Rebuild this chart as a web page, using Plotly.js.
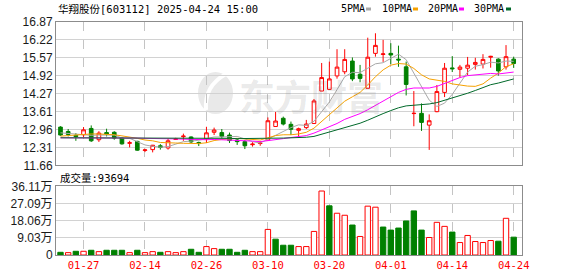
<!DOCTYPE html>
<html><head><meta charset="utf-8">
<script src="https://cdn.plot.ly/plotly-3.0.1.min.js"></script>
<style>html,body{margin:0;padding:0;background:#fff;}#chart{width:578px;height:276px;}</style>
</head><body><div id="chart"></div>
<script>
// ---------------- data ----------------
const stockName = '华翔股份';
const stockCode = '603112';
const stamp = '2025-04-24 15:00';
const dates = ['2025-01-22','2025-01-23','2025-01-24','2025-01-27','2025-02-05','2025-02-06','2025-02-07','2025-02-10','2025-02-11','2025-02-12',
 '2025-02-13','2025-02-14','2025-02-17','2025-02-18','2025-02-19','2025-02-20','2025-02-21','2025-02-24','2025-02-25','2025-02-26',
 '2025-02-27','2025-02-28','2025-03-03','2025-03-04','2025-03-05','2025-03-06','2025-03-07','2025-03-10','2025-03-11','2025-03-12',
 '2025-03-13','2025-03-14','2025-03-17','2025-03-18','2025-03-19','2025-03-20','2025-03-21','2025-03-24','2025-03-25','2025-03-26',
 '2025-03-27','2025-03-28','2025-03-31','2025-04-01','2025-04-02','2025-04-03','2025-04-07','2025-04-08','2025-04-09','2025-04-10',
 '2025-04-11','2025-04-14','2025-04-15','2025-04-16','2025-04-17','2025-04-18','2025-04-21','2025-04-22','2025-04-23','2025-04-24'];
const open  = [13.05,12.89,12.75,12.77,13.00,12.59,12.85,12.86,12.65,12.46, 12.53,12.20,12.23,12.37,12.29,12.60,12.70,12.69,12.49,12.62,
 12.86,12.85,12.76,12.58,12.52,12.41,12.45,12.58,13.07,13.37, 13.15,12.93,13.03,13.18,14.36,14.42,14.91,15.06,15.45,14.97,
 14.46,15.73,15.69,15.73,15.52,15.24,13.54,13.55,13.12,13.61, 14.31,15.20,15.15,15.19,15.33,15.34,15.59,15.52,15.24,15.52];
const high  = [13.08,12.98,12.83,13.05,13.11,12.90,12.99,12.90,12.68,12.55, 12.55,12.26,12.40,12.43,12.63,12.66,12.81,12.71,12.52,13.06,
 13.03,12.98,12.85,12.64,12.58,12.50,12.54,13.40,13.60,13.43, 13.25,13.03,13.31,14.07,15.38,15.43,15.88,15.88,15.58,15.31,
 16.30,16.46,16.22,16.10,16.01,15.43,14.36,13.91,13.51,14.58, 15.38,15.63,15.31,15.60,15.57,15.70,15.64,15.55,16.03,15.61];
const low   = [12.73,12.71,12.55,12.69,12.51,12.51,12.71,12.59,12.41,12.31, 12.19,12.14,12.13,12.23,12.23,12.58,12.55,12.47,12.36,12.47,
 12.76,12.64,12.47,12.40,12.25,12.34,12.37,12.57,13.06,13.11, 12.76,12.66,12.98,13.18,14.36,14.40,14.81,14.97,14.72,14.68,
 14.46,15.61,15.42,15.34,15.24,14.20,13.08,12.91,12.22,13.59, 14.14,15.05,14.85,14.94,15.14,15.18,15.21,14.92,15.14,15.20];
const close = [12.76,12.78,12.70,12.95,12.55,12.83,12.80,12.65,12.44,12.48, 12.21,12.22,12.39,12.31,12.55,12.62,12.72,12.51,12.45,12.84,
 12.94,12.71,12.56,12.52,12.37,12.43,12.47,13.28,13.27,13.16, 12.97,12.99,13.16,14.00,14.85,14.80,15.23,15.51,14.80,14.82,
 15.59,16.02,15.71,15.67,15.49,14.60,13.55,13.22,13.28,14.34, 15.19,15.17,15.23,15.30,15.40,15.51,15.62,15.09,15.61,15.36];
const volume = [14200,12400,19500,19500,24800,17700,24800,24800,24800,12400, 24800,12400,17700,14200,17700,12400,17700,30100,14200,44300,
 33600,30100,30100,14200,24800,17700,17700,134500,83200,51300, 51300,44300,44300,123900,336300,258400,219500,208900,157500,97400,
 256700,251300,146900,131000,141600,178800,231900,131000,92000,171700, 150500,120400,65500,102700,70800,65500,76100,72600,192900,93694];
const ma5  = [12.84,12.82,12.80,12.79,12.75,12.76,12.77,12.76,12.65,12.64, 12.52,12.40,12.35,12.32,12.34,12.42,12.52,12.54,12.57,12.63,
 12.69,12.69,12.70,12.71,12.62,12.52,12.47,12.61,12.76,12.92, 13.03,13.13,13.11,13.26,13.59,13.96,14.41,14.88,15.04,15.03,
 15.19,15.35,15.39,15.56,15.70,15.50,15.00,14.51,14.03,13.80, 13.92,14.24,14.64,15.05,15.26,15.32,15.41,15.38,15.45,15.44];
const ma10 = [12.72,12.74,12.76,12.79,12.80,12.80,12.79,12.77,12.73,12.69, 12.64,12.58,12.55,12.49,12.49,12.47,12.46,12.45,12.45,12.48,
 12.56,12.60,12.62,12.64,12.62,12.61,12.58,12.66,12.74,12.77, 12.77,12.80,12.86,13.01,13.26,13.50,13.77,13.99,14.15,14.31,
 14.58,14.88,15.13,15.30,15.36,15.34,15.18,14.95,14.80,14.75, 14.71,14.62,14.57,14.54,14.53,14.62,14.83,15.01,15.25,15.35];
const ma20 = [12.66,12.66,12.66,12.66,12.67,12.67,12.67,12.67,12.66,12.66, 12.65,12.64,12.64,12.63,12.62,12.62,12.61,12.60,12.59,12.59,
 12.60,12.59,12.59,12.57,12.56,12.54,12.52,12.55,12.59,12.63, 12.67,12.70,12.74,12.83,12.94,13.05,13.18,13.33,13.44,13.54,
 13.68,13.84,14.00,14.16,14.31,14.42,14.47,14.47,14.47,14.53, 14.64,14.75,14.85,14.92,14.95,14.98,15.00,14.98,15.02,15.05];
const ma30 = [12.66,12.66,12.66,12.66,12.66,12.66,12.66,12.66,12.66,12.66, 12.65,12.65,12.65,12.65,12.65,12.65,12.65,12.65,12.64,12.64,
 12.64,12.64,12.64,12.63,12.63,12.63,12.63,12.64,12.64,12.65, 12.66,12.66,12.68,12.71,12.79,12.86,12.94,13.03,13.11,13.19,
 13.30,13.43,13.54,13.65,13.75,13.82,13.84,13.87,13.89,13.94, 14.02,14.10,14.19,14.28,14.38,14.49,14.59,14.65,14.73,14.80];
const maNames = ['5PMA','10PMA','20PMA','30PMA'];
const priceTicks = [11.66,12.31,12.96,13.61,14.27,14.92,15.57,16.22,16.87];
const volTicks = [0,90300,180600,270900,361100];
const volTickLabels = ['0','9.03万','18.06万','27.09万','36.11万'];
const dateTicks = ['2025-01-27','2025-02-14','2025-02-26','2025-03-10','2025-03-20','2025-04-01','2025-04-14','2025-04-24'];

// ---------------- styles / layout ----------------
const RED = '#ff0000', GREEN = '#008000';
const maColors = ['#a8a8a8','#f5a100','#ff00ff','#00692a'];
const L = 56, R = 522, T = 22, B = 255;
const px = x => (x - L) / (R - L);
const py = y => (B - y) / (B - T);
const xr = [-0.585, 60.08];
const FRAME = '#8c8c8c', GRID = '#d2d2d2';
const MONO = 'DejaVu Sans Mono, Noto Sans CJK SC, monospace';

const volUp = volume.map((v, i) => i === 0 ? close[i] >= open[i] : close[i] >= close[i-1]);

const traces = [];
[ma5, ma10, ma20, ma30].forEach((m, k) => traces.push({
  type:'scatter', mode:'lines', x:dates, y:m, xaxis:'x', yaxis:'y',
  line:{color:maColors[k], width:1}, hoverinfo:'skip'
}));
traces.push({
  type:'candlestick', x:dates, open:open, high:high, low:low, close:close, xaxis:'x', yaxis:'y',
  increasing:{line:{color:RED, width:1}, fillcolor:'#ffffff'},
  decreasing:{line:{color:GREEN, width:1}, fillcolor:GREEN},
  whiskerwidth:0, hoverinfo:'skip'
});
traces.push({
  type:'bar', x:dates, y:volume, xaxis:'x2', yaxis:'y2',
  marker:{color:volUp.map(u => u ? '#ffffff' : GREEN), line:{color:volUp.map(u => u ? RED : GREEN), width:1}},
  hoverinfo:'skip'
});

const xbase = {
  type:'category', range:xr, tickvals:dateTicks, ticktext:dateTicks.map(d => d.slice(5)),
  showgrid:true, gridcolor:'#c4c4c4', griddash:'dash', gridwidth:1,
  showline:true, mirror:true, linecolor:FRAME, linewidth:1, ticks:'', zeroline:false, fixedrange:true
};
const ybase = {
  showgrid:true, gridcolor:GRID, gridwidth:1, showline:true, mirror:true, linecolor:FRAME, linewidth:1,
  ticks:'', zeroline:false, fixedrange:true,
  tickfont:{family:'Liberation Sans, Noto Sans CJK SC, Arial', size:12, color:'#1a1a1a'}
};

const annotations = [];
annotations.push({xref:'paper', yref:'paper', x:px(L), y:py(9), xanchor:'left', yanchor:'middle', showarrow:false,
  text: stockName + '[' + stockCode + '] ' + stamp, font:{family:MONO, size:10.5, color:'#000'}});
const legX = [339, 380, 426, 472], swX = [366, 413, 459, 506];
maNames.forEach((n, k) => annotations.push({xref:'paper', yref:'paper', x:px(legX[k]), y:py(9), xanchor:'left', yanchor:'middle',
  showarrow:false, text:n, font:{family:MONO, size:10, color:'#000'}}));
annotations.push({xref:'paper', yref:'paper', x:px(58), y:py(177.5), xanchor:'left', yanchor:'middle', showarrow:false,
  text:'成交量:' + volume[volume.length-1], font:{family:MONO, size:10.5, color:'#000'}});
annotations.push({xref:'paper', yref:'paper', x:px(311), y:py(95), xanchor:'center', yanchor:'middle', showarrow:false,
  text:'<b>东方财富</b>', font:{family:'Noto Sans CJK SC', size:36, color:'rgba(100,100,100,0.15)'}});

const shapes = maColors.map((c, k) => ({type:'rect', xref:'paper', yref:'paper',
  x0:px(swX[k]), x1:px(swX[k] + 5), y0:py(10.5), y1:py(7.5), fillcolor:c, line:{width:0}}));
// watermark logo (light grey disc with white swoosh)
shapes.push({type:'circle', xref:'paper', yref:'paper', layer:'below',
  x0:px(198), x1:px(233), y0:py(114), y1:py(72), fillcolor:'#e9e9e9', line:{width:0}});
shapes.push({type:'path', xref:'paper', yref:'paper', layer:'below',
  path:'M ' + px(206) + ' ' + py(110) + ' Q ' + px(204) + ' ' + py(86) + ' ' + px(226) + ' ' + py(74),
  line:{color:'#ffffff', width:4}});

const layout = {
  width:578, height:276, margin:{l:L, r:578-R, t:T, b:276-B, pad:0},
  paper_bgcolor:'#fff', plot_bgcolor:'#fff', showlegend:false, dragmode:false,
  boxgap:0.32, bargap:0.3,
  xaxis:Object.assign({}, xbase, {anchor:'y', domain:[0,1], showticklabels:false, rangeslider:{visible:false}}),
  xaxis2:Object.assign({}, xbase, {anchor:'y2', domain:[0,1], showticklabels:true,
    tickfont:{family:MONO, size:10.5, color:RED}}),
  yaxis:Object.assign({}, ybase, {domain:[(B-165.3)/(B-T), 1], range:[priceTicks[0], priceTicks[priceTicks.length-1]],
    tickvals:priceTicks, ticktext:priceTicks.map(v => v.toFixed(2))}),
  yaxis2:Object.assign({}, ybase, {domain:[0, (B-186.3)/(B-T)], range:[0, volTicks[volTicks.length-1]],
    tickvals:volTicks, ticktext:volTickLabels}),
  annotations:annotations, shapes:shapes
};
Plotly.newPlot('chart', traces, layout, {staticPlot:true, displayModeBar:false});
</script></body></html>
